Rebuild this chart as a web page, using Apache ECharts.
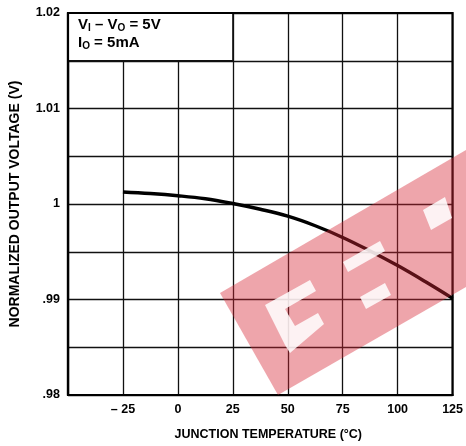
<!DOCTYPE html>
<html><head><meta charset="utf-8">
<script src="https://cdn.jsdelivr.net/npm/echarts@6/dist/echarts.min.js"></script>
<style>html,body{margin:0;padding:0;background:#fff}#c{width:466px;height:446px}</style>
</head><body><div id="c"></div>
<script>
var temps = [-25, -12.5, 0, 12.5, 25, 37.5, 50, 62.5, 75, 87.5, 100, 112.5, 125];
var vout = [1.00126, 1.0011, 1.00087, 1.00055, 1.00005, 0.99945, 0.99872, 0.99772, 0.99650, 0.99508, 0.99355, 0.99188, 0.99012];
var xTicks = {"-25": "\u2013 25", "0": "0", "25": "25", "50": "50", "75": "75", "100": "100", "125": "125"};
var yTicks = {"1.02": "1.02", "1.01": "1.01", "1": "1", "0.99": ".99", "0.98": ".98"};

var F = '"Liberation Sans", Arial, sans-serif';
var chart = echarts.init(document.getElementById('c'));
var data = temps.map(function (t, i) { return [t, vout[i]]; });

chart.setOption({
  animation: false,
  backgroundColor: '#fff',
  grid: { left: 63, right: 12, top: 13, bottom: 51, show: true, borderColor: '#000', borderWidth: 2.2, z: 5, backgroundColor: 'transparent' },
  xAxis: {
    type: 'value', min: -50, max: 125, interval: 25,
    name: 'JUNCTION TEMPERATURE (\u00B0C)', nameLocation: 'middle', nameGap: 33,
    nameTextStyle: { fontFamily: F, fontWeight: 'bold', fontSize: 12.5, color: '#000', padding: [0, 0, 0, 16] },
    axisLine: { show: true, onZero: false, lineStyle: { color: '#000', width: 2.2 } },
    axisTick: { show: false },
    axisLabel: { margin: 8, fontFamily: F, fontWeight: 'bold', fontSize: 12.5, color: '#000',
      formatter: function (v) { var k = String(v); return xTicks.hasOwnProperty(k) ? xTicks[k] : ''; } },
    splitLine: { show: true, lineStyle: { color: '#111', width: 1.3 } }
  },
  yAxis: {
    type: 'value', min: 0.98, max: 1.02, interval: 0.005,
    name: 'NORMALIZED OUTPUT VOLTAGE (V)', nameLocation: 'middle', nameGap: 46, nameRotate: 90,
    nameTextStyle: { fontFamily: F, fontWeight: 'bold', fontSize: 14, color: '#000' },
    axisLine: { show: true, onZero: false, lineStyle: { color: '#000', width: 2.2 } },
    axisTick: { show: false },
    axisLabel: { margin: 8, fontFamily: F, fontWeight: 'bold', fontSize: 12.5, color: '#000',
      formatter: function (v) { var k = String(Math.round(v * 1000) / 1000); return yTicks.hasOwnProperty(k) ? yTicks[k] : ''; } },
    splitLine: { show: true, lineStyle: { color: '#111', width: 1.3 } }
  },
  series: [{
    type: 'line', data: data, smooth: 0.4, showSymbol: false,
    lineStyle: { color: '#000', width: 3.4 },
    markArea: {
      silent: true,
      itemStyle: { color: '#fff', borderColor: '#111', borderWidth: 1.3 },
      data: [[{ coord: [-50, 1.015] }, { coord: [25, 1.02] }]]
    }
  }],
  graphic: [
    { type: 'text', left: 78, top: 17, z: 20,
      style: { rich: {
        m: { fontFamily: F, fontWeight: 'bold', fontSize: 15, fill: '#000', lineHeight: 18 },
        s: { fontFamily: F, fontWeight: 'bold', fontSize: 10, fill: '#000', lineHeight: 18, verticalAlign: 'bottom', padding: [6, 0, 0, 0] }
      }, text: '{m|V}{s|I}{m| \u2013 V}{s|O}{m| = 5V}\n{m|I}{s|O}{m| = 5mA}' } },
    { type: 'polygon', z: 30, silent: true,
      shape: { points: [[220, 293], [466, 150], [466, 287], [278, 395]] },
      style: { fill: 'rgba(215,40,55,0.42)' } },
    { type: 'polygon', z: 31, silent: true,
      shape: { points: [[343, 262], [380, 241], [385, 251], [348, 272]] },
      style: { fill: 'rgba(255,255,255,0.85)' } },
    { type: 'polygon', z: 31, silent: true,
      shape: { points: [[423, 210], [445, 197], [452, 218], [431, 230]] },
      style: { fill: 'rgba(255,255,255,0.85)' } },
    { type: 'polygon', z: 31, silent: true,
      shape: { points: [[360, 297], [385, 283], [391, 295], [366, 309]] },
      style: { fill: 'rgba(255,255,255,0.85)' } },
    { type: 'polygon', z: 31, silent: true,
      shape: { points: [[265, 305], [310, 280], [316, 291], [285, 309], [295, 326], [318, 313], [324, 324], [290, 353], [285, 345]] },
      style: { fill: 'rgba(255,255,255,0.85)' } }
  ]
});
</script></body></html>
